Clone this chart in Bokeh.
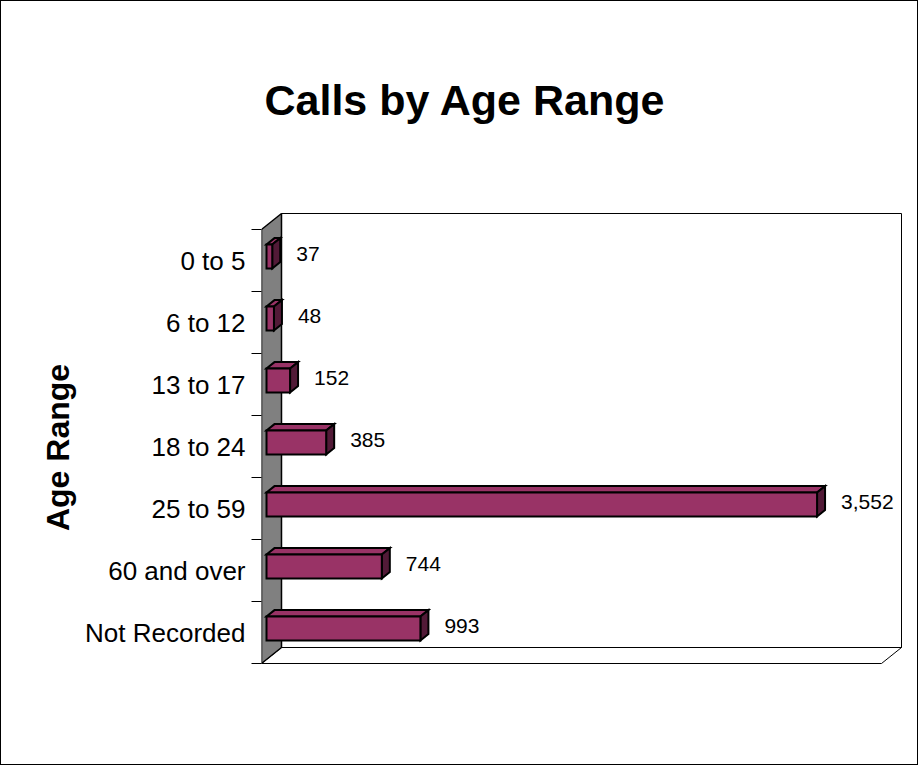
from bokeh.plotting import figure
from bokeh.models import Range1d, FixedTicker, Title, ColumnDataSource
from bokeh.core.properties import value
from bokeh.embed import file_html
from bokeh.resources import INLINE

# ---------------- data ----------------
categories = ["0 to 5", "6 to 12", "13 to 17", "18 to 24", "25 to 59", "60 and over", "Not Recorded"]
calls = [37, 48, 152, 385, 3552, 744, 993]
title_text = "Calls by Age Range"
y_title = "Age Range"
axis_max = 4000

# ---------------- layout (pixels) ----------------
FONT = "Liberation Sans"
W, H = 918, 765
FRAME_L, FRAME_R = 260, 906   # page px
FRAME_T, FRAME_B = 208, 684
FRONT_L = 260                 # front plane, value 0
FRONT_B = 662                 # front plane, bottom of categories
PLOT_W = 620                  # px for 0..axis_max
BAND = 62                     # px per category
DEPTH = (20, 16)              # 3-D depth offset (right, up) in px
D0, D1 = 0.25, 0.65           # bar depth span (fraction of depth)
BAR_H = 24                    # bar thickness in px
TITLE_GAP = 78                # space between title and plot frame

S = PLOT_W / axis_max         # px per unit
n = len(categories)
ypos = [n - 1 - i for i in range(n)]          # top category highest

def X(px):
    return (px - FRONT_L) / S

def Y(py):
    return -0.5 + (FRONT_B - py) / BAND

DX = DEPTH[0] / S
DY = DEPTH[1] / BAND
HB = BAR_H / BAND

p = figure(width=W, height=H, output_backend="svg", toolbar_location=None,
           x_range=Range1d(X(FRAME_L), X(FRAME_R)),
           y_range=Range1d(Y(FRAME_B), Y(FRAME_T)),
           x_axis_location=None, title=None,
           min_border_left=FRAME_L, min_border_right=W - FRAME_R,
           min_border_top=FRAME_T, min_border_bottom=H - FRAME_B,
           styles={"border": "1px solid black", "box-sizing": "border-box"})
p.outline_line_color = None
p.grid.visible = False
p.background_fill_color = "white"
p.border_fill_color = "white"

# ---------------- walls ----------------
ybot, ytop = -0.5, n - 0.5
# back wall
p.patch([DX, axis_max + DX, axis_max + DX, DX],
        [ybot + DY, ybot + DY, ytop + DY, ytop + DY],
        fill_color="white", line_color="black", line_width=1)
# floor
p.patch([0, DX, axis_max + DX, axis_max],
        [ybot, ybot + DY, ybot + DY, ybot],
        fill_color="white", line_color="black", line_width=1)
# side wall
p.patch([0, DX, DX, 0],
        [ybot, ybot + DY, ytop + DY, ytop],
        fill_color="#808080", line_color="black", line_width=1.5)

# ---------------- 3-D bars ----------------
top_xs, top_ys, side_xs, side_ys = [], [], [], []
for v, y in zip(calls, ypos):
    x0a, x0b = D0 * DX, D1 * DX
    xa, xb = v + D0 * DX, v + D1 * DX
    ya_t, yb_t = y + HB / 2 + D0 * DY, y + HB / 2 + D1 * DY
    ya_b, yb_b = y - HB / 2 + D0 * DY, y - HB / 2 + D1 * DY
    top_xs.append([x0a, xa, xb, x0b])
    top_ys.append([ya_t, ya_t, yb_t, yb_t])
    side_xs.append([xa, xb, xb, xa])
    side_ys.append([ya_b, yb_b, yb_t, ya_t])

p.patches(top_xs, top_ys, fill_color="#993366", line_color="black",
          line_width=2, line_join="miter")
p.patches(side_xs, side_ys, fill_color="#521a37", line_color="black",
          line_width=2, line_join="miter")
p.hbar(y=[y + D0 * DY for y in ypos], left=D0 * DX,
       right=[v + D0 * DX for v in calls], height=HB,
       fill_color="#993366", line_color="black", line_width=2, line_join="miter")

# value labels
src = ColumnDataSource(dict(x=[v + D0 * DX for v in calls], y=ypos,
                            t=[f"{v:,}" for v in calls]))
p.text(x="x", y="y", text="t", source=src, x_offset=24, y_offset=-7,
       text_font=value(FONT), text_font_size="21px", text_color="black",
       text_align="left", text_baseline="middle")

# ---------------- category axis ----------------
ax = p.yaxis[0]
ax.ticker = FixedTicker(ticks=ypos, minor_ticks=[i - 0.5 for i in range(n + 1)])
ax.major_label_overrides = {y: c for y, c in zip(ypos, categories)}
ax.axis_line_color = None
ax.major_tick_line_color = None
ax.major_tick_out = 0
ax.major_tick_in = 0
ax.minor_tick_line_color = "black"
ax.minor_tick_out = 10
ax.minor_tick_in = 0
ax.major_label_standoff = 6
ax.major_label_text_font = FONT
ax.major_label_text_font_size = "26px"
ax.major_label_text_color = "black"
ax.axis_label = y_title
ax.axis_label_text_font = FONT
ax.axis_label_text_font_style = "bold"
ax.axis_label_text_font_size = "32px"
ax.axis_label_text_color = "black"
ax.axis_label_standoff = 6

# ---------------- title ----------------
# invisible spacer between frame and title (keeps the frame position fixed)
p.add_layout(Title(text=" ", text_font_size="1px", standoff=TITLE_GAP), "above")
p.add_layout(Title(text=title_text, align="left", offset=3, standoff=10,
                   text_font=FONT, text_font_style="bold",
                   text_font_size="43px", text_color="black"), "above")

open("out.html", "w").write(file_html(p, INLINE))
